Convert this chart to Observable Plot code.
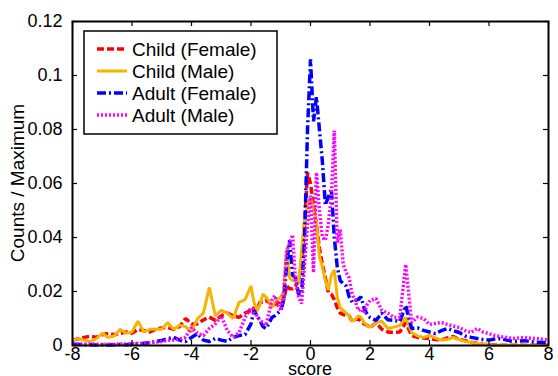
<!DOCTYPE html>
<html>
<head>
<meta charset="utf-8">
<script src="https://cdn.jsdelivr.net/npm/d3@7"></script>
<script src="https://cdn.jsdelivr.net/npm/@observablehq/plot@0.6"></script>
<style>
  html, body { margin: 0; padding: 0; background: #fff; }
  #chart svg { display: block; }
</style>
</head>
<body>
<div id="chart"></div>
<script>
// ---- data ----
const scores = [
  -8.0,-7.8,-7.6,-7.4,-7.2,-7.0,-6.8,-6.6,-6.4,-6.2,-6.0,-5.8,-5.6,-5.4,-5.2,-5.0,-4.8,-4.6,-4.4,-4.2,-4.0,-3.8,-3.6,-3.4,-3.2,-3.0,-2.8,-2.6,-2.4,-2.2,
  -2.0,-1.9,-1.8,-1.7,-1.6,-1.5,-1.4,-1.3,-1.2,-1.1,-1.0,-0.9,-0.8,-0.7,-0.6,-0.5,-0.4,-0.3,-0.2,-0.1,0.0,0.1,0.2,0.3,0.4,0.5,0.6,0.7,0.8,0.9,1.0,1.1,1.2,1.3,1.4,1.5,1.6,1.7,1.8,1.9,2.0,
  2.2,2.4,2.6,2.8,3.0,3.2,3.4,3.6,3.8,4.0,4.2,4.4,4.6,4.8,5.0,5.2,5.4,5.6,5.8,6.0,6.2,6.4,6.6,6.8,7.0,7.2,7.4,7.6,7.8,8.0
];

const childFemale = [
  0.002,0.0025,0.003,0.0035,0.003,0.004,0.0045,0.004,0.0045,0.005,0.0045,0.006,0.0055,0.005,0.006,0.0065,0.0067,0.006,0.007,0.010,0.008,0.008,0.0095,0.0105,0.0093,0.011,0.012,0.011,0.0104,0.012,
  0.013,0.014,0.013,0.016,0.016,0.0167,0.016,0.015,0.0152,0.016,0.0148,0.017,0.022,0.021,0.021,0.022,0.024,0.030,0.045,0.064,0.060,0.052,0.045,0.036,0.030,0.025,0.0196,0.019,0.017,0.014,0.012,0.0115,0.011,0.011,0.009,0.0095,0.010,0.009,0.008,0.0075,0.0067,
  0.0085,0.006,0.005,0.0048,0.005,0.0085,0.0037,0.003,0.0028,0.0026,0.0022,0.002,0.0028,0.0033,0.0022,0.0018,0.0012,0.0008,0.0005,0.0003,0.0002,0.0001,0.0001,0.0001,0.0001,0.0001,0.0001,0.0001,0.0001,0.0001
];

const childMale = [
  0.002,0.0025,0.002,0.0015,0.0025,0.0045,0.003,0.0035,0.006,0.0045,0.005,0.009,0.005,0.006,0.006,0.006,0.0085,0.006,0.0075,0.007,0.005,0.010,0.012,0.0215,0.011,0.013,0.012,0.010,0.016,0.017,
  0.022,0.016,0.013,0.015,0.019,0.018,0.0165,0.014,0.016,0.017,0.018,0.020,0.036,0.025,0.024,0.024,0.023,0.035,0.047,0.052,0.055,0.050,0.046,0.033,0.029,0.024,0.0205,0.026,0.028,0.018,0.014,0.013,0.012,0.011,0.009,0.0095,0.011,0.0105,0.0085,0.0075,0.0067,
  0.0085,0.009,0.0063,0.0068,0.0074,0.0104,0.0048,0.0035,0.003,0.0037,0.0028,0.002,0.0022,0.003,0.0022,0.0015,0.0012,0.0007,0.0005,0.0003,0.0002,0.0001,0.0001,0.0001,0.0001,0.0001,0.0001,0.0001,0.0001,0.0001
];

const adultFemale = [
  0.0005,0.0004,0.0003,0.0003,0.0002,0.0003,0.0002,0.0003,0.0004,0.0003,0.0005,0.0006,0.0008,0.001,0.0015,0.0019,0.0025,0.003,0.002,0.0015,0.003,0.0044,0.002,0.0015,0.0026,0.002,0.0015,0.003,0.0037,0.004,
  0.008,0.013,0.011,0.0093,0.007,0.0063,0.008,0.0104,0.011,0.012,0.013,0.0167,0.030,0.039,0.026,0.025,0.019,0.019,0.039,0.080,0.106,0.083,0.092,0.080,0.068,0.052,0.055,0.058,0.040,0.029,0.024,0.023,0.022,0.018,0.016,0.0167,0.017,0.018,0.014,0.0115,0.0104,
  0.0093,0.012,0.0095,0.0093,0.0089,0.0148,0.0063,0.0065,0.0056,0.005,0.0044,0.0055,0.0063,0.0055,0.0048,0.0035,0.003,0.0026,0.0022,0.002,0.0024,0.0026,0.002,0.0015,0.0016,0.0018,0.0014,0.0012,0.0011,0.001
];

const adultMale = [
  0.0008,0.0006,0.0005,0.0006,0.0005,0.0004,0.0005,0.0004,0.0006,0.0005,0.0007,0.0008,0.0007,0.001,0.0012,0.0015,0.0019,0.002,0.0025,0.003,0.0067,0.0045,0.0037,0.0063,0.008,0.011,0.0056,0.003,0.0048,0.0104,
  0.014,0.012,0.011,0.0093,0.0085,0.0074,0.012,0.0167,0.0185,0.015,0.013,0.020,0.035,0.038,0.041,0.023,0.018,0.0155,0.030,0.045,0.0555,0.027,0.064,0.050,0.040,0.039,0.045,0.055,0.0796,0.038,0.043,0.030,0.027,0.025,0.019,0.0167,0.013,0.0135,0.012,0.015,0.0167,
  0.0174,0.013,0.012,0.0104,0.0104,0.030,0.0085,0.0105,0.010,0.0078,0.0082,0.0085,0.0078,0.0072,0.0067,0.0055,0.0048,0.0063,0.005,0.0044,0.0037,0.0033,0.003,0.0026,0.0028,0.003,0.0027,0.0026,0.0023,0.002
];

const seriesNames = ["Child (Female)", "Child (Male)", "Adult (Female)", "Adult (Male)"];
const seriesColors = ["#ff0000", "#f5b400", "#0000ff", "#ff00ff"];
const seriesDash = ["7,3", null, "9,3,2,3", "2,2"];
const seriesValues = [childFemale, childMale, adultFemale, adultMale];

const xTicks = [-8, -6, -4, -2, 0, 2, 4, 6, 8];
const yTicks = [0, 0.02, 0.04, 0.06, 0.08, 0.1, 0.12];
const yTickLabels = ["0", "0.02", "0.04", "0.06", "0.08", "0.1", "0.12"];
const xLabel = "score";
const yLabel = "Counts / Maximum";

// ---- build ----
const W = 558, H = 376;
const mL = 72, mR = 10, mT = 21, mB = 31;
const innerH = H - mT - mB, innerW = W - mL - mR;
const tick = 5;
const font = "Liberation Sans, Arial, Helvetica, sans-serif";

const tables = seriesValues.map((vals, i) =>
  scores.map((s, j) => ({score: s, value: vals[j], series: seriesNames[i]})));

const plot = Plot.plot({
  width: W, height: H,
  marginLeft: mL, marginRight: mR, marginTop: mT, marginBottom: mB,
  style: {fontFamily: font, fontSize: "18px", color: "black", background: "white"},
  x: {domain: [-8, 8], ticks: xTicks, label: null},
  y: {domain: [0, 0.12], ticks: yTicks, label: null},
  marks: [
    ...tables.map((t, i) => Plot.line(t, {
      x: "score", y: "value",
      stroke: seriesColors[i], strokeWidth: i === 1 ? 3 : 3.5,
      strokeDasharray: seriesDash[i] ?? undefined,
      strokeLinejoin: "miter", strokeLinecap: "butt"
    })),
    // inward ticks on all four sides
    Plot.ruleX(xTicks, {x: d => d, insetTop: innerH - tick, stroke: "black", strokeWidth: 1.2}),
    Plot.ruleX(xTicks, {x: d => d, insetBottom: innerH - tick, stroke: "black", strokeWidth: 1.2}),
    Plot.ruleY(yTicks, {y: d => d, insetRight: innerW - tick, stroke: "black", strokeWidth: 1.2}),
    Plot.ruleY(yTicks, {y: d => d, insetLeft: innerW - tick, stroke: "black", strokeWidth: 1.2}),
    Plot.axisX(xTicks, {tickSize: 0, tickPadding: 2, fontSize: 18, tickFormat: d => d < 0 ? "-" + Math.abs(d) : String(d)}),
    Plot.axisY(yTicks, {tickSize: 0, tickPadding: 10, fontSize: 18, tickFormat: (d, i) => yTickLabels[i]}),
    Plot.frame({stroke: "black", strokeWidth: 2})
  ]
});

document.getElementById("chart").appendChild(plot);

// axis titles and legend (non-data annotation)
const svg = d3.select(plot);
svg.append("text")
  .attr("x", mL + innerW / 2).attr("y", H - 1)
  .attr("text-anchor", "middle")
  .style("font-family", font).style("font-size", "18px")
  .text(xLabel);
svg.append("text")
  .attr("transform", `translate(24,${mT + innerH / 2}) rotate(-90)`)
  .attr("text-anchor", "middle")
  .style("font-family", font).style("font-size", "19px")
  .text(yLabel);

const lg = svg.append("g").attr("transform", "translate(84,31)");
lg.append("rect").attr("width", 193).attr("height", 103)
  .attr("fill", "white").attr("stroke", "black").attr("stroke-width", 1.5);
seriesNames.forEach((name, i) => {
  const y = 18 + i * 22;
  lg.append("line").attr("x1", 13).attr("x2", 43).attr("y1", y).attr("y2", y)
    .attr("stroke", seriesColors[i]).attr("stroke-width", i === 1 ? 3 : 3.5)
    .attr("stroke-dasharray", seriesDash[i]);
  lg.append("text").attr("x", 48).attr("y", y).attr("dy", "0.35em")
    .attr("text-anchor", "start")
    .style("font-family", font).style("font-size", "19px")
    .text(name);
});
</script>
</body>
</html>
